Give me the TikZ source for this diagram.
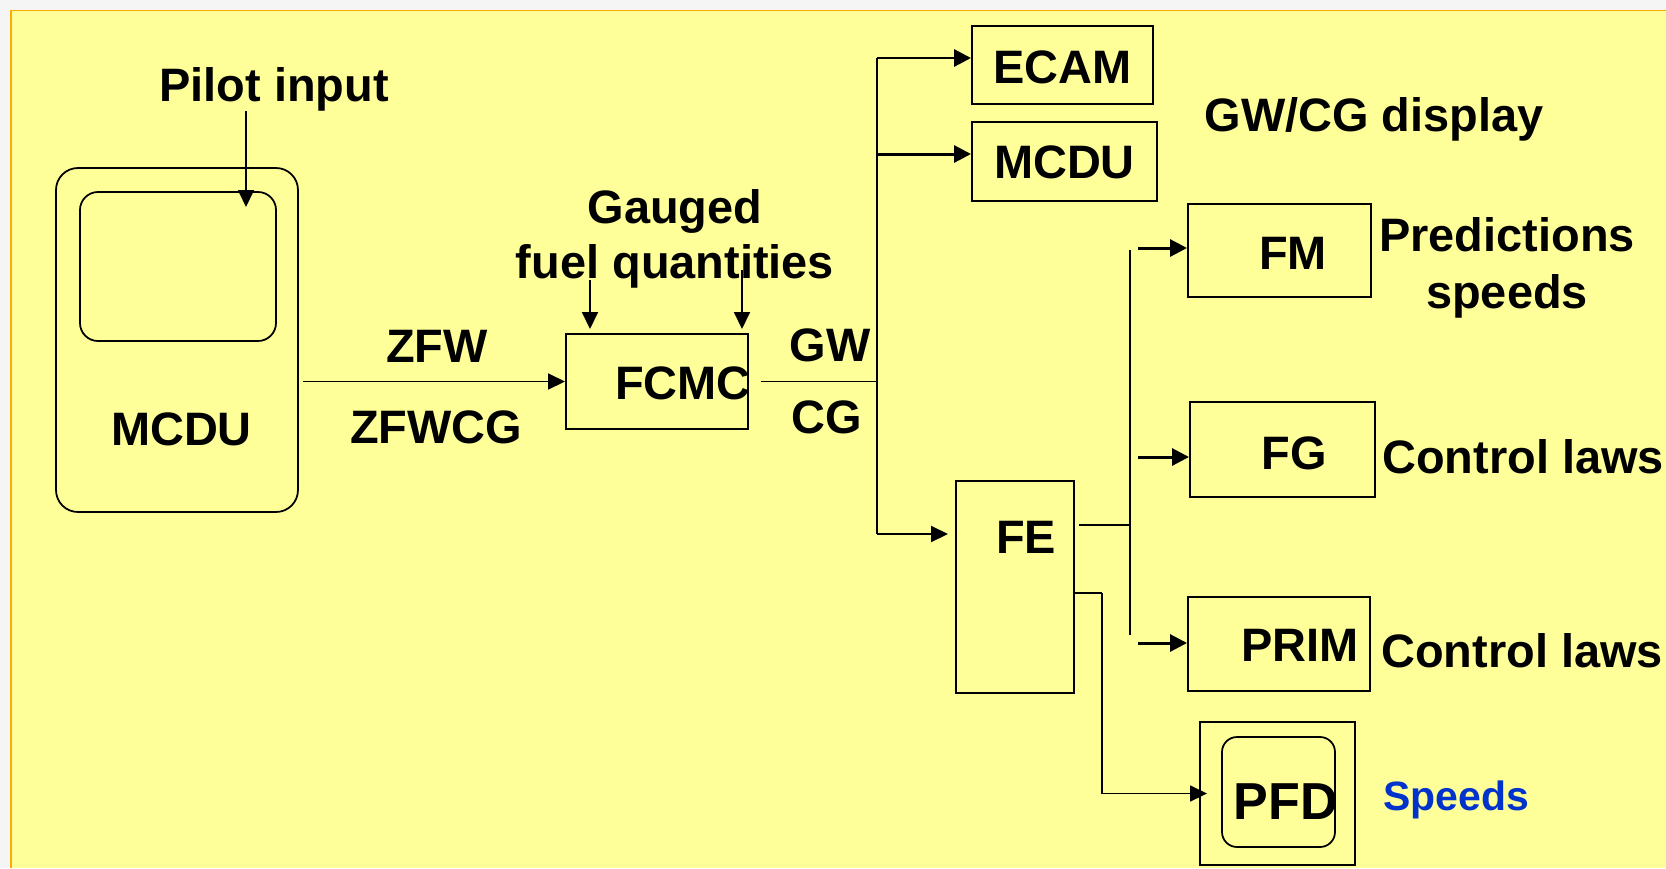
\documentclass[tikz,border=0pt]{standalone}
\usepackage{fontspec}
\setmainfont{Liberation Sans}
\usetikzlibrary{arrows.meta,positioning}
\definecolor{slide}{RGB}{255,255,153}
\definecolor{rim}{RGB}{255,170,0}
\definecolor{spdblue}{RGB}{0,51,204}

\begin{document}
\begin{tikzpicture}[
      x=0.2mm, y=-0.2mm,
      box/.style 2 args={draw, line width=1.1pt, inner sep=0pt, minimum width=#1, minimum height=#2},
      lbl/.style={font=\fontsize{26.7}{31}\selectfont\bfseries, inner sep=0pt, anchor=base},
      wire/.style={line width=1pt},
      arr/.style={-{Triangle[length=3.4mm, width=3.2mm]}, line width=1pt},
      arrbold/.style={-{Triangle[length=3.4mm, width=3.4mm]}, line width=1.7pt}
    ]
      % slide background
      \useasboundingbox (0,0) rectangle (1666,868);
      \fill[black!4] (0,0) rectangle (1666,868);
      \fill[slide] (11,10.5) rectangle (1666,868);
      \draw[rim, line width=0.9pt] (1666,10.5) -- (11,10.5) -- (11,868);

      % MCDU on the left
      \node[box={48.4mm}{68.8mm}, rounded corners=4.4mm, line width=1pt] (mcdu) at (177,340) {};
      \node[box={39.2mm}{29.8mm}, rounded corners=3.6mm, line width=1pt] (screen) at (178,266.5) {};
      \node[lbl] (mcdulbl) at (181.5,445) {MCDU};
      \node[lbl] (pilot) at (274,101) {Pilot input};
      \node[lbl] (zfw) at (437,362) {ZFW};
      \node[lbl] (zfwcg) at (436,443) {ZFWCG};

      % FCMC
      \node[box={36.4mm}{19mm}] (fcmc) at (657,381.5) {};
      \node[lbl] (fcmclbl) at (683,399) {FCMC};
      \node[lbl] (gauged) at (675,223) {Gauged};
      \node[lbl] (fuel) at (675,278) {fuel quantities};
      \node[lbl] (gw) at (830,361) {GW};
      \node[lbl] (cg) at (827,433) {CG};

      % displays
      \node[box={36.2mm}{15.6mm}] (ecam) at (1062.5,65) {};
      \node[lbl] (ecamlbl) at (1062.5,83) {ECAM};
      \node[box={37mm}{15.8mm}] (mcdub) at (1064.5,161.5) {};
      \node[lbl] (mcdublbl) at (1064.5,178) {MCDU};
      \node[lbl] (gwcg) at (1374,131) {GW/CG display};

      % FE and its users
      \node[box={23.6mm}{42.4mm}] (fe) at (1015,587) {};
      \node[lbl] (felbl) at (1026,553) {FE};
      \node[box={36.6mm}{18.6mm}] (fm) at (1279.5,250.5) {};
      \node[lbl] (fmlbl) at (1293,269) {FM};
      \node[lbl] (pred) at (1507,251) {Predictions};
      \node[lbl] (spd) at (1507,308) {speeds};
      \node[box={37mm}{19mm}] (fg) at (1282.5,449.5) {};
      \node[lbl] (fglbl) at (1294,469) {FG};
      \node[lbl, anchor=base west] (lawsfg) at (1382,473) {Control laws};
      \node[box={36.4mm}{18.8mm}] (prim) at (1279,644) {};
      \node[lbl] (primlbl) at (1300,661) {PRIM};
      \node[lbl, anchor=base west] (lawsprim) at (1381,667) {Control laws};
      \node[box={31mm}{28.6mm}] (pfd) at (1277.5,793.5) {};
      \node[box={22.6mm}{22mm}, rounded corners=3mm, line width=1pt] (pfdscr) at (1278.5,792) {};
      \node[lbl, font=\fontsize{29.6}{34}\selectfont\bfseries] (pfdlbl) at (1286,819) {PFD};
      \node[lbl, font=\fontsize{23.3}{27}\selectfont\bfseries, text=spdblue] (speeds) at (1456,810) {Speeds};

      % inputs
      \coordinate (pin) at (246,207);
      \draw[arr] (pilot.south -| pin) -- (pin);
      \draw[arr] ([xshift=0.8mm]mcdu.east |- fcmc.west) -- (fcmc.west);
      \coordinate (gl) at (590,280);
      \coordinate (gr) at (742,270);
      \draw[arr, shorten >=0.8mm] (gl) -- (gl |- fcmc.north);
      \draw[arr, shorten >=0.8mm] (gr) -- (gr |- fcmc.north);

      % GW/CG bus
      \coordinate (bustop) at (877,58);
      \coordinate (busmid) at (877,154);
      \coordinate (busbot) at (877,534);
      \draw[wire] ([xshift=2.4mm]fcmc.east) -- (fcmc.east -| bustop);
      \draw[line width=1.3pt] (bustop) -- (busbot);
      \draw[arrbold] (bustop) -- (bustop -| ecam.west);
      \draw[arrbold] (busmid) -- (busmid -| mcdub.west);
      \draw[arr, shorten >=1.4mm] (busbot) -- (busbot -| fe.west);

      % FE outputs
      \coordinate (hub) at (1130,525);
      \coordinate (hubtop) at (1130,250);
      \coordinate (hubbot) at (1130,635);
      \draw[wire] ([xshift=0.8mm]fe.east |- hub) -- (hub);
      \draw[wire] (hubtop) -- (hubbot);
      \foreach \dst/\yy in {fm/248, fg/457, prim/643} {
        \coordinate (t\dst) at (1138,\yy);
        \draw[arrbold] (t\dst) -- (t\dst -| \dst.west);
      }
      \coordinate (tap) at (1102,593);
      \draw[wire] (fe.east |- tap) -- (tap);
      \draw[arr] (tap) -- (tap |- pfd.west) -- ([xshift=1.6mm]pfd.west);
    \end{tikzpicture}
\end{document}
